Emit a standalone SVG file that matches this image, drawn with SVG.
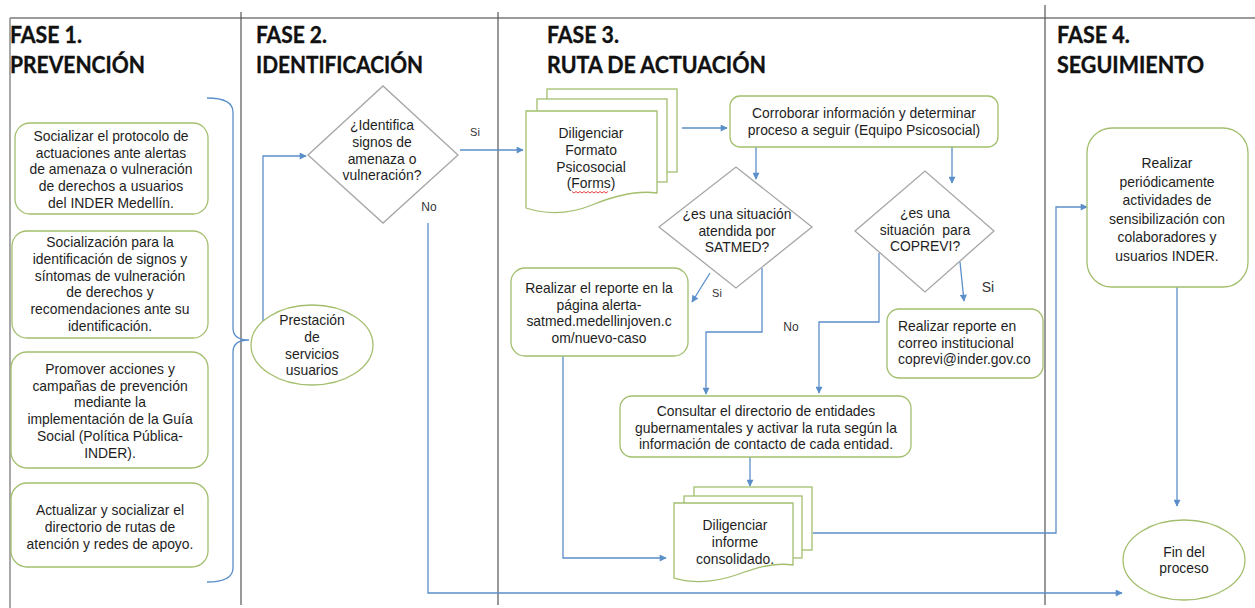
<svg xmlns="http://www.w3.org/2000/svg" width="1255" height="608" viewBox="0 0 1255 608">
<defs>
<style>
.frame{stroke:#7a7a7a;stroke-width:1.3;fill:none}
.vline{stroke:#555;stroke-width:1.2;fill:none}
.hdr{font-family:Lato,"Open Sans","Liberation Sans",sans-serif;font-weight:bold;font-size:23px;fill:#111;stroke:#111;stroke-width:0.35}
.box{fill:#fff;stroke:#a3bf6e;stroke-width:1.3}
.dia{fill:#fff;stroke:#a6a6a6;stroke-width:1.3}
.t{font-family:"Liberation Sans",Arial,sans-serif;font-size:13.9px;fill:#1e1e1e;text-anchor:middle}
.tl{font-family:"Liberation Sans",Arial,sans-serif;font-size:13.9px;fill:#1e1e1e}
.lbl{font-family:"Liberation Sans",Arial,sans-serif;font-size:11px;fill:#333;text-anchor:middle}
.con{fill:none;stroke:#5b8fc9;stroke-width:1.3}
.arr{marker-end:url(#ah)}
</style>
<marker id="ah" viewBox="0 0 10 10" refX="9" refY="5" markerWidth="8" markerHeight="7" orient="auto" markerUnits="userSpaceOnUse">
<path d="M0,0 L10,5 L0,10 z" fill="#5b8fc9"/>
</marker>
</defs>
<rect x="0" y="0" width="1255" height="608" fill="#fff"/>

<g id="frame">
<line class="frame" x1="10" y1="18" x2="1255" y2="18"/>
<line class="frame" x1="10" y1="18" x2="10" y2="608"/>
<line class="vline" x1="241" y1="12" x2="241" y2="605"/>
<line class="vline" x1="498" y1="12" x2="498" y2="605"/>
<line class="vline" x1="1045" y1="5" x2="1045" y2="605"/>
</g>

<g id="headers">
<text class="hdr" x="10" y="43" textLength="72" lengthAdjust="spacingAndGlyphs">FASE 1.</text>
<text class="hdr" x="10" y="73" textLength="135" lengthAdjust="spacingAndGlyphs">PREVENCIÓN</text>
<text class="hdr" x="256" y="43" textLength="71" lengthAdjust="spacingAndGlyphs">FASE 2.</text>
<text class="hdr" x="256" y="73" textLength="167" lengthAdjust="spacingAndGlyphs">IDENTIFICACIÓN</text>
<text class="hdr" x="547" y="43" textLength="72" lengthAdjust="spacingAndGlyphs">FASE 3.</text>
<text class="hdr" x="547" y="73" textLength="219" lengthAdjust="spacingAndGlyphs">RUTA DE ACTUACIÓN</text>
<text class="hdr" x="1057" y="43" textLength="73" lengthAdjust="spacingAndGlyphs">FASE 4.</text>
<text class="hdr" x="1057" y="73" textLength="147" lengthAdjust="spacingAndGlyphs">SEGUIMIENTO</text>
</g>

<g id="connectors">
<path class="con" d="M207,98 Q233,98 233,112 L233,328 Q233,340 249,340 Q233,340 233,352 L233,568 Q233,582 207,582"/>
<path class="con arr" d="M263,321 V156 H306"/>
<path class="con arr" d="M460,150 H523"/>
<path class="con arr" d="M428,223 V593 H1122"/>
<path class="con arr" d="M682,128 H727"/>
<path class="con arr" d="M756,147 V179"/>
<path class="con arr" d="M952,147 V183"/>
<path class="con arr" d="M710,273 L692,302"/>
<path class="con arr" d="M762,268 V332 H706 V394"/>
<path class="con arr" d="M879,253 V322 H819 V393"/>
<path class="con arr" d="M960,262 L964,301"/>
<path class="con arr" d="M750,457 V486"/>
<path class="con arr" d="M563,356 V558 H666"/>
<path class="con arr" d="M813,533 H1056 V207 H1087"/>
<path class="con arr" d="M1177,287 V506"/>
</g>

<g id="n-socializar-protocolo">
<rect class="box" x="15" y="123" width="193" height="91" rx="15"/>
<text class="t" x="111" y="141">Socializar el protocolo de</text>
<text class="t" x="111" y="157.7">actuaciones ante alertas</text>
<text class="t" x="111" y="174.4">de amenaza o vulneración</text>
<text class="t" x="111" y="191.1">de derechos a usuarios</text>
<text class="t" x="111" y="207.8">del INDER Medellín.</text>
</g>

<g id="n-socializacion-signos">
<rect class="box" x="12" y="231" width="196" height="107" rx="15"/>
<text class="t" x="110" y="247">Socialización para la</text>
<text class="t" x="110" y="263.8">identificación de signos y</text>
<text class="t" x="110" y="280.6">síntomas de vulneración</text>
<text class="t" x="110" y="297.4">de derechos y</text>
<text class="t" x="110" y="314.2">recomendaciones ante su</text>
<text class="t" x="110" y="331">identificación.</text>
</g>

<g id="n-promover">
<rect class="box" x="11" y="352" width="197" height="116" rx="16"/>
<text class="t" x="110" y="374">Promover acciones y</text>
<text class="t" x="110" y="390.7">campañas de prevención</text>
<text class="t" x="110" y="407.4">mediante la</text>
<text class="t" x="110" y="424.1">implementación de la Guía</text>
<text class="t" x="110" y="440.8">Social (Política Pública-</text>
<text class="t" x="110" y="457.5">INDER).</text>
</g>

<g id="n-actualizar">
<rect class="box" x="11" y="483" width="197" height="84" rx="16"/>
<text class="t" x="110" y="515">Actualizar y socializar el</text>
<text class="t" x="110" y="532">directorio de rutas de</text>
<text class="t" x="110" y="549">atención y redes de apoyo.</text>
</g>

<g id="n-prestacion">
<ellipse class="box" cx="312" cy="345" rx="61" ry="40"/>
<text class="t" x="312" y="325">Prestación</text>
<text class="t" x="312" y="342">de</text>
<text class="t" x="312" y="358.5">servicios</text>
<text class="t" x="312" y="375">usuarios</text>
</g>

<g id="n-identifica">
<polygon class="dia" points="308,155 383,86 458,155 383,223"/>
<text class="t" x="382" y="130">¿Identifica</text>
<text class="t" x="382" y="147">signos de</text>
<text class="t" x="382" y="163.5">amenaza o</text>
<text class="t" x="382" y="180">vulneración?</text>
<text class="lbl" x="475" y="136">Si</text>
<text class="lbl" x="429" y="211" style="font-size:12px">No</text>
</g>

<g id="n-formato-psicosocial">
<rect class="box" x="547" y="89" width="130" height="83"/>
<rect class="box" x="537" y="99" width="130" height="83"/>
<path class="box" d="M526,111 H657 V193 C636,190 614,196 592,205 C570,214 548,215 526,208 Z"/>
<text class="t" x="591" y="138">Diligenciar</text>
<text class="t" x="591" y="155">Formato</text>
<text class="t" x="591" y="171.5">Psicosocial</text>
<text class="t" x="591" y="188">(Forms)</text>
<path d="M572,191.5 l2,1.5 l2,-1.5 l2,1.5 l2,-1.5 l2,1.5 l2,-1.5 l2,1.5 l2,-1.5 l2,1.5 l2,-1.5 l2,1.5 l2,-1.5 l2,1.5 l2,-1.5 l2,1.5 l2,-1.5 l2,1.5 l2,-1.5" fill="none" stroke="#e03030" stroke-width="0.9"/>
</g>

<g id="n-corroborar">
<rect class="box" x="730" y="96" width="268" height="51" rx="10"/>
<text class="t" x="864" y="118">Corroborar información y determinar</text>
<text class="t" x="864" y="134.5">proceso a seguir (Equipo Psicosocial)</text>
</g>

<g id="n-satmed">
<polygon class="dia" points="659,227 736,167 812,227 736,288"/>
<text class="t" x="737" y="219">¿es una situación</text>
<text class="t" x="737" y="236">atendida por</text>
<text class="t" x="737" y="252">SATMED?</text>
<text class="lbl" x="717" y="297">Si</text>
<text class="lbl" x="791" y="331" style="font-size:12px">No</text>
</g>

<g id="n-coprevi">
<polygon class="dia" points="855,231 925,171 994,231 925,292"/>
<text class="t" x="925" y="218">¿es una</text>
<text class="t" x="925" y="235">situación&#160; para</text>
<text class="t" x="925" y="251">COPREVI?</text>
<text class="lbl" x="988" y="292" style="font-size:14px">Si</text>
</g>

<g id="n-reporte-satmed">
<rect class="box" x="511" y="268" width="177" height="88" rx="14"/>
<text class="t" x="599" y="293">Realizar el reporte en la</text>
<text class="t" x="599" y="309.5">página alerta-</text>
<text class="t" x="599" y="326">satmed.medellinjoven.c</text>
<text class="t" x="599" y="342.5">om/nuevo-caso</text>
</g>

<g id="n-reporte-coprevi">
<rect class="box" x="887" y="309" width="156" height="69" rx="12"/>
<text class="tl" x="898" y="331">Realizar reporte en</text>
<text class="tl" x="898" y="347.5">correo institucional</text>
<text class="tl" x="898" y="364">coprevi@inder.gov.co</text>
</g>

<g id="n-consultar">
<rect class="box" x="620" y="396" width="291" height="61" rx="12"/>
<text class="t" x="766" y="416">Consultar el directorio de entidades</text>
<text class="t" x="766" y="432.5">gubernamentales y activar la ruta según la</text>
<text class="t" x="766" y="449">información de contacto de cada entidad.</text>
</g>

<g id="n-informe">
<rect class="box" x="694" y="487" width="118" height="63"/>
<rect class="box" x="684" y="496" width="118" height="62"/>
<path class="box" d="M674,503 H793 V565 C774,562 756,568 736,575 C716,582 695,584 674,578 Z"/>
<text class="t" x="735" y="530">Diligenciar</text>
<text class="t" x="735" y="547">informe</text>
<text class="t" x="735" y="564">consolidado.</text>
</g>

<g id="n-seguimiento">
<rect class="box" x="1087" y="128" width="161" height="159" rx="25"/>
<text class="t" x="1167" y="168">Realizar</text>
<text class="t" x="1167" y="186.5">periódicamente</text>
<text class="t" x="1167" y="205">actividades de</text>
<text class="t" x="1167" y="223.5">sensibilización con</text>
<text class="t" x="1167" y="242">colaboradores y</text>
<text class="t" x="1167" y="260.5">usuarios INDER.</text>
</g>

<g id="n-fin">
<ellipse class="box" cx="1184" cy="560" rx="61" ry="40"/>
<text class="t" x="1184" y="557">Fin del</text>
<text class="t" x="1184" y="573">proceso</text>
</g>
</svg>
